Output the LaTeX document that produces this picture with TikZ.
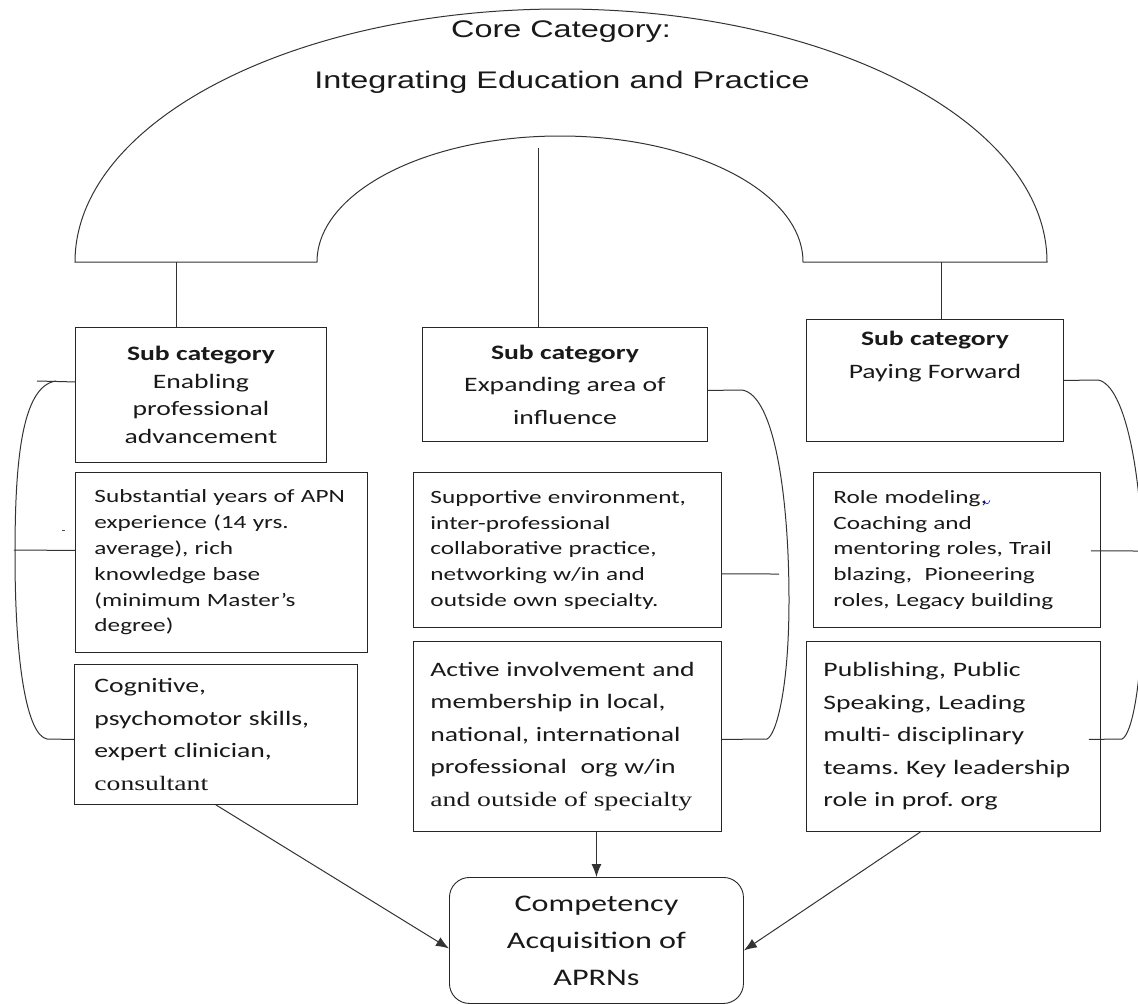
\documentclass[tikz,border=0pt]{standalone}
\usepackage{fontspec}
\setmainfont{Carlito}[FakeStretch=1.35]
\newfontfamily\headfont{Liberation Sans}[FakeStretch=1.35]
\newfontfamily\oldfont{Liberation Serif}[FakeStretch=1.35]
\usetikzlibrary{arrows.meta}
\frenchspacing

\newcommand{\smalltxt}{\fontsize{18.7pt}{25.8pt}\selectfont}
\newcommand{\bigtxt}{\fontsize{20.5pt}{32.5pt}\selectfont}

\tikzset{
  box/.style={draw=black!85, line width=0.9pt, inner sep=0pt, anchor=north west, text=black!90},
  subcat/.style={box, align=center, font=\bigtxt},
  detail/.style={box, align=left, font=\smalltxt},
  arch/.style={draw=black!80, line width=1pt}
}

\begin{document}
\begin{tikzpicture}[x=1pt, y=-1pt, >={Latex[length=13pt,width=10pt]}]
    \useasboundingbox (0,0) rectangle (1138,1004);

    % core category arch
    \draw[arch] (75,262) arc[start angle=180, end angle=360, x radius=486, y radius=253]
        -- (803,262) arc[start angle=360, end angle=180, x radius=243, y radius=126] -- cycle;
    \node[font=\headfont\fontsize{24pt}{28pt}\selectfont, text=black!90] (corehead) at (561,32) {Core Category:};
    \node[font=\headfont\fontsize{24pt}{28pt}\selectfont, text=black!90] (coretitle) at (562,82) {Integrating Education and Practice};

    % sub categories
    \node[subcat, minimum width=251pt, minimum height=135pt, font=\fontsize{20.5pt}{27.7pt}\selectfont] (enab) at (75,327)
        {\textbf{Sub category}\\Enabling\\professional\\advancement};
    \node[subcat, minimum width=285pt, minimum height=114pt] (expand) at (422,327)
        {\textbf{Sub category}\\Expanding area of\\influence};
    \node[subcat, minimum width=257pt, minimum height=122pt] (payfwd) at (806,319)
        {\parbox[c][98pt][t]{240pt}{\centering\textbf{Sub category}\\Paying Forward}};

    % details under each sub category
    \node[detail, minimum width=292pt, minimum height=180pt, text width=254pt] (years) at (75,472)
        {Substantial years of APN\\experience (14 yrs.\\average), rich\\knowledge base\\(minimum Master's\\degree)};
    \node[detail, minimum width=283pt, minimum height=140pt, text width=243pt, font=\bigtxt] (cognit) at (74,664)
        {Cognitive,\\psychomotor skills,\\expert clinician,\\{\oldfont consultant}};
    \node[detail, minimum width=308pt, minimum height=155pt, text width=274pt] (support) at (413,472)
        {Supportive environment,\\inter-professional\\collaborative practice,\\networking w/in and\\outside own specialty.};
    \node[detail, minimum width=308pt, minimum height=190pt, text width=274pt, font=\bigtxt] (active) at (413,641)
        {Active involvement and\\membership in local,\\national, international\\professional\ \ org w/in\\{\oldfont and outside of specialty}};
    \node[detail, minimum width=287pt, minimum height=155pt, text width=247pt] (rolemod) at (813,472)
        {Role modeling,\\Coaching and\\mentoring roles, Trail\\blazing,\ \ Pioneering\\roles, Legacy building};
    \node[detail, minimum width=294pt, minimum height=190pt, text width=260pt, font=\bigtxt] (publish) at (806,641)
        {Publishing, Public\\Speaking, Leading\\multi- disciplinary\\teams. Key leadership\\role in prof. org};

    % outcome
    \node[box, rounded corners=20pt, minimum width=294pt, minimum height=126pt, align=center,
          font=\fontsize{23.8pt}{37pt}\selectfont] (compet) at (449,877) {Competency\\Acquisition of\\APRNs};

    % arch to sub categories
    \coordinate (archL) at (176,262);
    \coordinate (archM) at (538,148);
    \coordinate (archR) at (941,262);
    \draw[arch] (archL) -- (archL |- enab.north);
    \draw[arch] (archM) -- (archM |- expand.north);
    \draw[arch] (archR) -- (archR |- payfwd.north);

    % left bracket
    \coordinate (lbtick) at (37,381);
    \coordinate (lbtop) at (56,381);
    \coordinate (lbmid) at (14,550);
    \coordinate (lbbot) at (47,739);
    \draw[arch] ([yshift=13pt]enab.west) -- (lbtick);
    \draw[arch] (lbtop) .. controls (20,386) and (15,470) .. (15,555)
        .. controls (15,665) and (27,735) .. (lbbot) -- ([yshift=-5pt]cognit.west);
    \draw[arch] (lbmid) -- ([yshift=12pt]years.west);
    \draw[black!70, line width=0.6pt] (62,530) -- (65,530);

    % middle bracket
    \coordinate (mbtop) at (742,390);
    \coordinate (mbmid) at (779,574);
    \coordinate (mbbot) at (767,739);
    \draw[arch] ([yshift=-6pt]expand.east) -- (mbtop) .. controls (775,395) and (789,500) .. (789,600)
        .. controls (789,690) and (776,735) .. (mbbot) -- ([yshift=-3pt]active.east);
    \draw[arch] ([yshift=-24pt]support.east) -- (mbmid);

    % right bracket
    \coordinate (rbtop) at (1098,380);
    \coordinate (rbmid) at (1140,551);
    \coordinate (rbbot) at (1122,739);
    \draw[arch] (payfwd.east) -- (rbtop) .. controls (1126,385) and (1143,480) .. (1143,580)
        .. controls (1143,690) and (1131,735) .. (rbbot) -- ([xshift=-12pt,yshift=-3pt]publish.east);
    \draw[arch] ([xshift=-10pt,yshift=-1pt]rolemod.east) -- (rbmid);
    \draw[blue, line width=0.5pt] (984,500) .. controls (985,505) and (989,505) .. (990,500);

    % arrows into the outcome
    \draw[arch, ->] (cognit.south) -- ([yshift=-8pt]compet.west);
    \draw[arch, ->] (compet.north |- active.south) -- (compet.north);
    \draw[arch, ->] ([xshift=-33pt]publish.south) -- ([yshift=-10pt]compet.east);

\end{tikzpicture}
\end{document}
